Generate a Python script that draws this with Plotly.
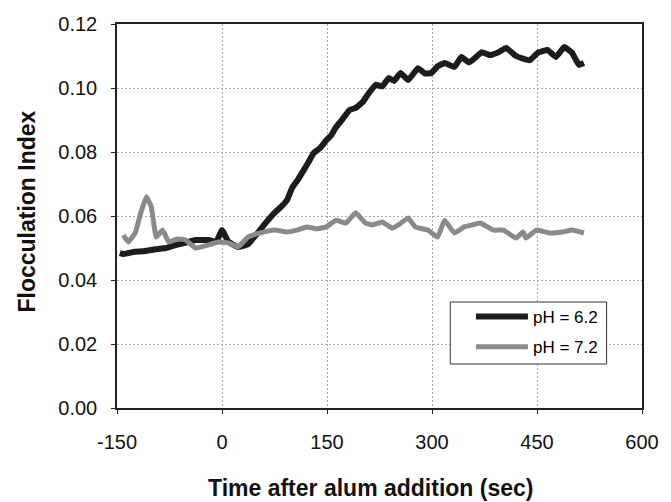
import plotly.graph_objects as go

# pH = 6.2 series
t_62 = [-146, -141, -125, -113, -95, -80, -65, -50, -38, -19, -8, 0, 9, 23, 37, 51, 63, 75, 85, 93,
        100, 108, 117, 124, 131, 140, 149, 156, 163, 172, 182, 191, 201, 210, 220, 229, 238, 246, 255,
        266, 280, 290, 299, 308, 318, 332, 342, 353, 362, 371, 383, 395, 406, 420, 430, 440, 451, 465,
        477, 489, 500, 510, 517]
fi_62 = [0.0484, 0.0481, 0.0488, 0.049, 0.0496, 0.050, 0.051, 0.0518, 0.0525, 0.0525, 0.052, 0.0556, 0.052,
         0.0503, 0.0512, 0.0547, 0.058, 0.061, 0.063, 0.065,
         0.0687, 0.0712, 0.0744, 0.077, 0.0797, 0.0812, 0.0837, 0.0852, 0.0878, 0.0902, 0.0931, 0.0938,
         0.0956, 0.0985, 0.101, 0.1005, 0.1031, 0.1022, 0.1047,
         0.1025, 0.1062, 0.1045, 0.1047, 0.1068, 0.1078, 0.1066, 0.1097, 0.108, 0.1095, 0.1112, 0.1103,
         0.1112, 0.1125, 0.110, 0.1092, 0.1087, 0.111, 0.1119, 0.1097, 0.1128, 0.111, 0.1072, 0.1078]

# pH = 7.2 series
t_72 = [-141, -134, -124, -116, -108, -101, -94, -85, -76, -64, -52, -38, -19, -5, 9, 23, 37, 55, 75, 93,
        107, 121, 135, 149, 163, 177, 191, 205, 215, 229, 243, 252, 266, 276, 294, 308, 318, 332, 346,
        357, 369, 388, 402, 420, 430, 434, 449, 468, 486, 500, 517]
fi_72 = [0.054, 0.0519, 0.0547, 0.061, 0.066, 0.0628, 0.0534, 0.0556, 0.0519, 0.0528, 0.0525, 0.050,
         0.051, 0.0519, 0.0516, 0.0503, 0.0534, 0.0547, 0.0556, 0.055,
         0.0556, 0.0566, 0.0560, 0.0566, 0.0587, 0.0578, 0.061, 0.0578, 0.0572, 0.0581, 0.0562, 0.0572,
         0.0594, 0.0566, 0.0556, 0.0534, 0.0587, 0.0547, 0.0566, 0.0572, 0.0578, 0.0556, 0.0556, 0.0531,
         0.055, 0.0531, 0.0556, 0.0547, 0.055, 0.0556, 0.0547]

x_ticks = [-150, 0, 150, 300, 450, 600]
y_ticks = [0.00, 0.02, 0.04, 0.06, 0.08, 0.10, 0.12]
y_tick_labels = ["0.00", "0.02", "0.04", "0.06", "0.08", "0.10", "0.12"]

fig = go.Figure()
fig.add_trace(go.Scatter(x=t_62, y=fi_62, mode="lines", name="pH = 6.2", legendgroup="a",
                         line=dict(color="#1c1c1c", width=6, shape="spline", smoothing=0.3)))
fig.add_trace(go.Scatter(x=t_72, y=fi_72, mode="lines", name="pH = 7.2", legendgroup="b",
                         line=dict(color="#8a8a8a", width=5, shape="spline", smoothing=0.3)))

font = "Liberation Sans, Arial, sans-serif"
axis_common = dict(showgrid=True, gridcolor="#aaa", griddash="2px,2px", gridwidth=1,
                   showline=True, linecolor="#222", linewidth=1.5, mirror=True,
                   ticks="outside", ticklen=4, tickcolor="#222", zeroline=False,
                   tickfont=dict(size=20, family=font, color="#111"))

W_L, W_R, W_T, W_B = 117, 651, 24, 408
def px(x):
    return (x - W_L) / (W_R - W_L)
def py(y):
    return (W_B - y) / (W_B - W_T)

fig.update_layout(
    width=671, height=502,
    margin=dict(l=117, r=20, t=24, b=94),
    paper_bgcolor="white", plot_bgcolor="white",
    font=dict(family=font, color="black", size=16),
    showlegend=True,
    legend=dict(x=px(477), y=py(299), xanchor="left", yanchor="top",
                borderwidth=0, bgcolor="rgba(0,0,0,0)",
                font=dict(size=17, family=font), tracegroupgap=5, itemwidth=52),
    xaxis=dict(range=[-150, 600], tickvals=x_ticks, ticktext=[str(v) for v in x_ticks],
               ticklabelstandoff=11, **axis_common),
    yaxis=dict(range=[0, 0.12], tickvals=y_ticks, ticktext=y_tick_labels,
               ticklabelstandoff=10, **axis_common),
    shapes=[
        dict(type="rect", xref="paper", yref="paper", x0=px(456), x1=px(615), y0=py(364), y1=py(302),
             line=dict(color="#333", width=1), fillcolor="white", layer="above"),
    ],
    annotations=[
        dict(text="<b>Time after alum addition (sec)</b>", xref="paper", yref="paper",
             x=px(375), y=py(488), xanchor="center", yanchor="middle",
             showarrow=False, font=dict(size=23, family=font, color="#111")),
        dict(text="<b>Flocculation Index</b>", xref="paper", yref="paper",
             x=px(25), y=py(212), xanchor="center", yanchor="middle",
             textangle=-90, showarrow=False, font=dict(size=23, family=font, color="#111")),
    ],
)

fig.write_html("out.html", config={"displayModeBar": False},
               post_script="document.body.style.margin='0';")
